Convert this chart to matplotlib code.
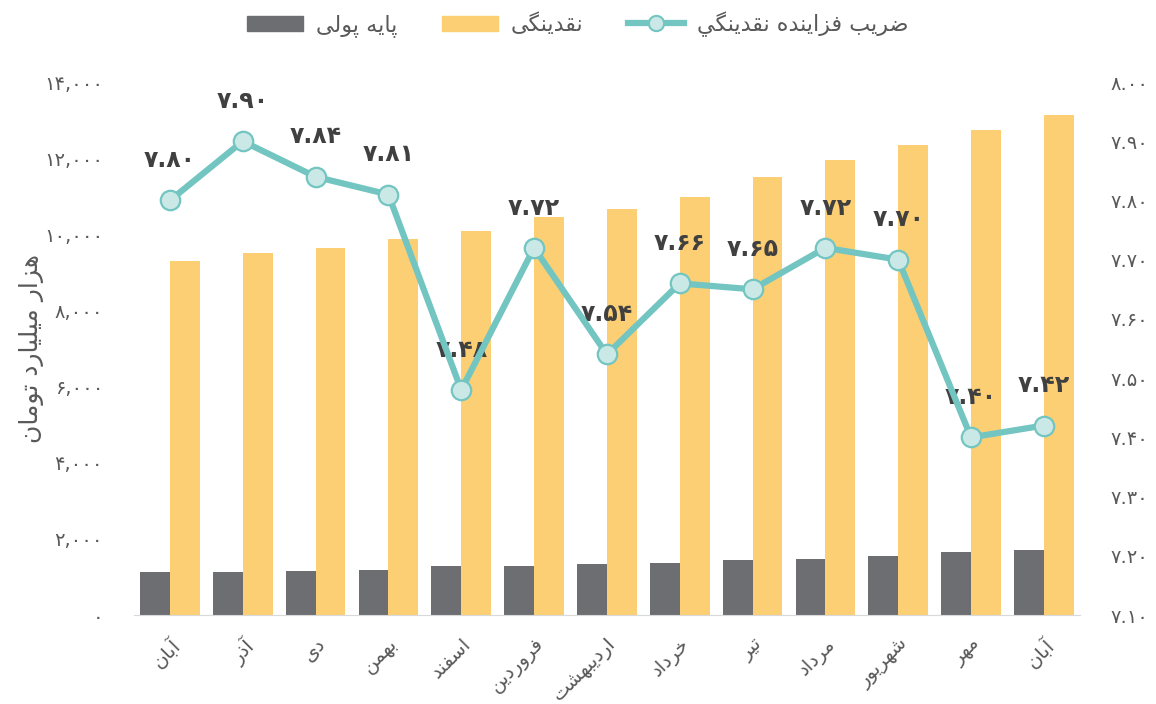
import matplotlib
matplotlib.use('Agg')
import matplotlib.pyplot as plt
from matplotlib.ticker import FuncFormatter, MultipleLocator
from matplotlib.patches import Patch
from matplotlib.lines import Line2D

# ---- data ----
months = ['آبان', 'آذر', 'دی', 'بهمن', 'اسفند', 'فروردین', 'اردیبهشت',
          'خرداد', 'تیر', 'مرداد', 'شهریور', 'مهر', 'آبان']
base_money = [1130, 1135, 1155, 1185, 1285, 1290, 1340, 1365, 1445, 1470, 1550, 1655, 1705]
liquidity = [9300, 9510, 9640, 9880, 10090, 10455, 10665, 10980, 11505, 11950, 12345, 12740, 13135]
multiplier = [7.80, 7.90, 7.84, 7.81, 7.48, 7.72, 7.54, 7.66, 7.65, 7.72, 7.70, 7.40, 7.42]

label_bars_base = 'پایه پولی'
label_bars_liq = 'نقدینگی'
label_line = 'ضریب فزاینده نقدینگي'
ylabel_left = 'هزار میلیارد تومان'

# ---- minimal Persian shaping (matplotlib has no bidi/shaping) ----
FORMS = {
    'ا': ('\uFE8D', '\uFE8E', None, None),
    'آ': ('\uFE81', '\uFE82', None, None),
    'ب': ('\uFE8F', '\uFE90', '\uFE91', '\uFE92'),
    'پ': ('\uFB56', '\uFB57', '\uFB58', '\uFB59'),
    'ت': ('\uFE95', '\uFE96', '\uFE97', '\uFE98'),
    'خ': ('\uFEA5', '\uFEA6', '\uFEA7', '\uFEA8'),
    'د': ('\uFEA9', '\uFEAA', None, None),
    'ذ': ('\uFEAB', '\uFEAC', None, None),
    'ر': ('\uFEAD', '\uFEAE', None, None),
    'ز': ('\uFEAF', '\uFEB0', None, None),
    'س': ('\uFEB1', '\uFEB2', '\uFEB3', '\uFEB4'),
    'ش': ('\uFEB5', '\uFEB6', '\uFEB7', '\uFEB8'),
    'ض': ('\uFEBD', '\uFEBE', '\uFEBF', '\uFEC0'),
    'ف': ('\uFED1', '\uFED2', '\uFED3', '\uFED4'),
    'ق': ('\uFED5', '\uFED6', '\uFED7', '\uFED8'),
    'گ': ('\uFB92', '\uFB93', '\uFB94', '\uFB95'),
    'ل': ('\uFEDD', '\uFEDE', '\uFEDF', '\uFEE0'),
    'م': ('\uFEE1', '\uFEE2', '\uFEE3', '\uFEE4'),
    'ن': ('\uFEE5', '\uFEE6', '\uFEE7', '\uFEE8'),
    'ه': ('\uFEE9', '\uFEEA', '\uFEEB', '\uFEEC'),
    'و': ('\uFEED', '\uFEEE', None, None),
    'ي': ('\uFEF1', '\uFEF2', '\uFEF3', '\uFEF4'),
    'ی': ('\uFBFC', '\uFBFD', '\uFBFE', '\uFBFF'),
}


def fa(text):
    out = []
    for i, ch in enumerate(text):
        if ch not in FORMS:
            out.append(ch)
            continue
        prev = text[i - 1] if i > 0 else ''
        nxt = text[i + 1] if i + 1 < len(text) else ''
        jp = prev in FORMS and FORMS[prev][2] is not None
        jn = nxt in FORMS and FORMS[ch][2] is not None
        iso, fin, ini, med = FORMS[ch]
        if jp and jn:
            out.append(med)
        elif jp:
            out.append(fin)
        elif jn:
            out.append(ini)
        else:
            out.append(iso)
    return ''.join(out)[::-1]


DIG = str.maketrans('0123456789', '۰۱۲۳۴۵۶۷۸۹')


def fa_num(s):
    return s.translate(DIG)


plt.rcParams['font.family'] = ['DejaVu Sans']

GRAY = '#6D6E71'
ORANGE = '#FCCF74'
TEAL = '#72C5C1'
TEAL_FACE = '#C9E8E6'
TXT = '#595959'

fig = plt.figure(figsize=(11.56, 7.04), dpi=100)
ax = fig.add_axes([0.1155, 0.1264, 0.819, 0.7571])
ax2 = ax.twinx()

x = list(range(len(months)))
w = 0.41
ax.bar([i - w / 2 for i in x], base_money, width=w, color=GRAY, zorder=2)
ax.bar([i + w / 2 for i in x], liquidity, width=w, color=ORANGE, zorder=2)

ax.set_xlim(-0.5, len(months) - 0.5)
ax.set_ylim(0, 14000)
ax.yaxis.set_major_locator(MultipleLocator(2000))
ax.yaxis.set_major_formatter(FuncFormatter(lambda v, p: fa_num(f'{v:,.0f}')))
ax.set_xticks(x)
ax.set_xticklabels([fa(m) for m in months], rotation=45, ha='right',
                   rotation_mode='anchor', fontsize=14, color=TXT)
ax.tick_params(axis='both', length=0, labelcolor=TXT)
ax.tick_params(axis='x', pad=14)
ax.tick_params(axis='y', pad=22, labelsize=14)
fig.text(32 / 1156, 0.505, fa(ylabel_left), rotation=90, ha='center', va='center',
         fontsize=18, color=TXT)

ax2.plot(x, multiplier, color=TEAL, lw=4.5, marker='o', ms=14,
         mfc=TEAL_FACE, mec=TEAL, mew=1.6, zorder=5)
for xi, v in zip(x, multiplier):
    ax2.annotate(fa_num(f'{v:.2f}'), (xi, v), xytext=(0, 29), textcoords='offset points',
                 ha='center', va='center', fontsize=17, fontweight='bold', color='#404040')
ax2.set_ylim(7.10, 8.00)
ax2.yaxis.set_major_locator(MultipleLocator(0.1))
ax2.yaxis.set_major_formatter(FuncFormatter(lambda v, p: fa_num(f'{v:.2f}')))
ax2.tick_params(axis='y', length=0, labelsize=14, labelcolor=TXT, pad=22)

for a in (ax, ax2):
    for s in ('top', 'left', 'right'):
        a.spines[s].set_visible(False)
    a.spines['bottom'].set_color('#D9D9D9')
ax2.spines['bottom'].set_visible(False)

handles = [Patch(color=GRAY), Patch(color=ORANGE),
           Line2D([], [], color=TEAL, lw=4.5, marker='o', ms=11, mfc=TEAL_FACE, mec=TEAL, mew=1.5)]
labels = [fa(label_bars_base), fa(label_bars_liq), fa(label_line)]
fig.legend(handles, labels, loc='upper center', bbox_to_anchor=(0.5, 1.012), ncol=3,
           frameon=False, fontsize=16, labelcolor=TXT, handlelength=2.5,
           handleheight=0.7, columnspacing=2.0, handletextpad=0.6)

fig.savefig('out.png', dpi=100)
